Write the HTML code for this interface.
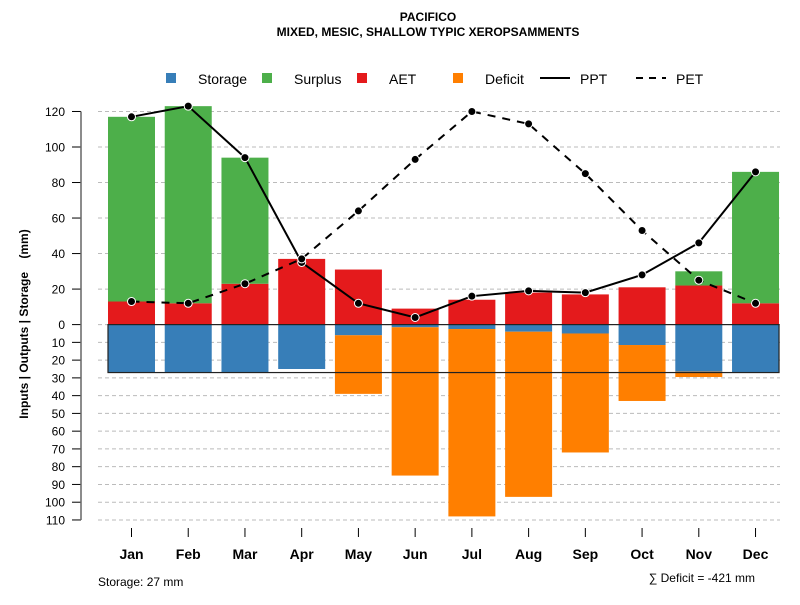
<!DOCTYPE html>
<html><head><meta charset="utf-8"><style>
body{margin:0;background:#fff;font-family:"Liberation Sans",sans-serif}
svg text{font-family:"Liberation Sans",sans-serif}
</style></head><body>
<svg id="chart" width="800" height="600" xmlns="http://www.w3.org/2000/svg">
<text x="428" y="21" font-size="12" font-weight="bold" text-anchor="middle">PACIFICO</text>
<text x="428" y="36" font-size="12" font-weight="bold" text-anchor="middle">MIXED, MESIC, SHALLOW TYPIC XEROPSAMMENTS</text>
<g id="legend" font-size="14">
<rect x="166" y="73" width="10" height="10" fill="#377eb8"/><text x="198" y="84">Storage</text>
<rect x="262" y="73" width="10" height="10" fill="#4daf4a"/><text x="294" y="84">Surplus</text>
<rect x="357" y="73" width="10" height="10" fill="#e41a1c"/><text x="389" y="84">AET</text>
<rect x="453" y="73" width="10" height="10" fill="#ff7f00"/><text x="485" y="84">Deficit</text>
<line x1="540" y1="78" x2="570" y2="78" stroke="#000" stroke-width="2"/><text x="580" y="84">PPT</text>
<line x1="636" y1="78" x2="666" y2="78" stroke="#000" stroke-width="2" stroke-dasharray="7,6"/><text x="676" y="84">PET</text>
</g>
<g id="grid"></g><g id="bars"></g><g id="lines"></g><g id="axes"></g>
<text transform="translate(28,324) rotate(-90)" font-size="12" font-weight="bold" text-anchor="middle">Inputs | Outputs | Storage&#160;&#160;&#160;&#160;(mm)</text>
<text x="98" y="586" font-size="12">Storage: 27 mm</text>
<text x="755" y="582" font-size="12" text-anchor="end">∑ Deficit = -421 mm</text>
</svg>
<script>
const months=["Jan","Feb","Mar","Apr","May","Jun","Jul","Aug","Sep","Oct","Nov","Dec"];
const aet=[13,12,23,37,31,9,14,18,17,21,22,12];
const surplus=[104,111,71,0,0,0,0,0,0,0,8,74];
const storage=[27,27,27,25,6,1.5,2.5,4,5,11.5,26.5,27];
const deficit=[0,0,0,0,33,83.5,105.5,93,67,31.5,3,0];
const ppt=[117,123,94,35,12,4,16,19,18,28,46,86];
const pet=[13,12,23,37,64,93,120,113,85,53,25,12];
const upTicks=[0,20,40,60,80,100,120];
const downTicks=[10,20,30,40,50,60,70,80,90,100,110];
const NS="http://www.w3.org/2000/svg";
const y0=324.6,k=1.776;
const yU=v=>y0-v*k, yD=v=>y0+v*k;
const xC=i=>131.5+i*56.73, bw=47;
function mk(p,t,a){const e=document.createElementNS(NS,t);for(const q in a)e.setAttribute(q,a[q]);document.getElementById(p).appendChild(e);return e;}
upTicks.forEach(v=>{if(v>0){const g=mk('grid','line',{x1:98,x2:780,y1:yU(v),y2:yU(v),stroke:'#bbb','stroke-dasharray':'4,3'});

}
const t=mk('axes','line',{x1:72,x2:81,y1:yU(v),y2:yU(v),stroke:'#000'});


const l=mk('axes','text',{x:65,y:yU(v)+4.5,'font-size':12,'text-anchor':'end'});l.textContent=v;

});
mk('grid','line',{x1:98,x2:780,y1:y0,y2:y0,stroke:'#bbb','stroke-dasharray':'4,3'});
downTicks.forEach(v=>{const g=mk('grid','line',{x1:98,x2:780,y1:yD(v),y2:yD(v),stroke:'#bbb','stroke-dasharray':'4,3'});


const t=mk('axes','line',{x1:72,x2:81,y1:yD(v),y2:yD(v),stroke:'#000'});


const l=mk('axes','text',{x:65,y:yD(v)+4.5,'font-size':12,'text-anchor':'end'});l.textContent=v;

});
mk('axes','line',{x1:81,x2:81,y1:yU(120),y2:yD(110),stroke:'#666','stroke-width':1.5});
months.forEach((m,i)=>{const x=xC(i)-bw/2;
let r=mk('bars','rect',{x:x,width:bw,y:yU(aet[i]),height:aet[i]*k,fill:'#e41a1c'});


r=mk('bars','rect',{x:x,width:bw,y:yU(aet[i]+surplus[i]),height:surplus[i]*k,fill:'#4daf4a'});


r=mk('bars','rect',{x:x,width:bw,y:y0,height:storage[i]*k,fill:'#377eb8'});


r=mk('bars','rect',{x:x,width:bw,y:yD(storage[i]),height:deficit[i]*k,fill:'#ff7f00'});


const t=mk('axes','line',{x1:xC(i),x2:xC(i),y1:528,y2:537,stroke:'#000'});


const l=mk('axes','text',{x:xC(i),y:559,'font-size':14,'font-weight':'bold','text-anchor':'middle'});l.textContent=m;

});
const smax=Math.max(...storage);
const box=mk('bars','rect',{x:xC(0)-bw/2,width:xC(11)+bw/2-(xC(0)-bw/2),y:y0,height:smax*k,fill:'none',stroke:'#222','stroke-width':1.2});


function series(vals,dash,name){const p=mk('lines','polyline',{points:vals.map((v,i)=>xC(i)+','+yU(v)).join(' '),fill:'none',stroke:'#000','stroke-width':2,'stroke-dasharray':dash});


vals.forEach((v,i)=>{const c=mk('lines','circle',{cx:xC(i),cy:yU(v),r:4,fill:'#000',stroke:'#fff','stroke-width':1});

});}
series(ppt,'none','ppt');
series(pet,'8,7','pet');
</script>
</body></html>
